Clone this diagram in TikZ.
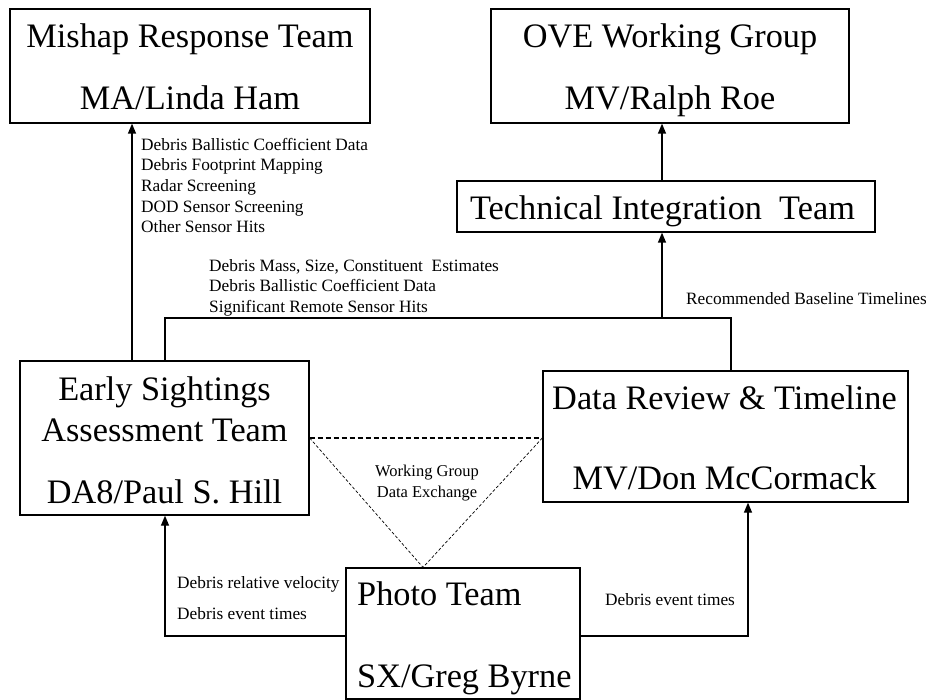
\documentclass[tikz,border=0pt]{standalone}
\usepackage{fontspec}
\setmainfont{Liberation Serif}
\usetikzlibrary{arrows.meta}
\tikzset{
  box/.style={draw, line width=1.3pt, inner sep=0pt},
  big/.style={inner sep=0pt, font=\fontsize{34.3}{38}\selectfont},
  lbl/.style={inner sep=0pt, anchor=base west, font=\fontsize{17.3}{20}\selectfont},
  wire/.style={line width=1.3pt},
  arr/.style={line width=1.3pt, -{Triangle[length=10pt,width=8pt]}},
  dashline/.style={line width=1.1pt, dash pattern=on 5pt off 3pt},
  dotline/.style={line width=0.7pt, dash pattern=on 3pt off 2pt},
}
\begin{document}
\begin{tikzpicture}[x=1pt,y=-1pt]
\useasboundingbox (0,0) rectangle (926,700);
% boxes
\node[box, minimum width=360pt, minimum height=114pt] (mishap) at (190,66) {};
\node[box, minimum width=358pt, minimum height=114pt] (ove) at (670,66) {};
\node[box, minimum width=418pt, minimum height=51pt] (tit) at (666,206.5) {};
\node[box, minimum width=289pt, minimum height=154pt] (esat) at (164.5,438) {};
\node[box, minimum width=365pt, minimum height=131pt] (drt) at (725.5,436.5) {};
\node[box, minimum width=234pt, minimum height=131pt] (photo) at (463,633.5) {};
% box texts
\node[big, anchor=base] (t1) at (190,48) {Mishap Response Team};
\node[big, anchor=base] (t2) at (190,110) {MA/Linda Ham};
\node[big, anchor=base] (t3) at (670,48) {OVE Working Group};
\node[big, anchor=base] (t4) at (670,110) {MV/Ralph Roe};
\node[big, anchor=base] (t5) at (662.5,220) {Technical Integration\ \ Team};
\node[big, anchor=base] (t6) at (164.5,400) {Early Sightings};
\node[big, anchor=base] (t7) at (164.5,441) {Assessment Team};
\node[big, anchor=base] (t8) at (164.5,503) {DA8/Paul S. Hill};
\node[big, anchor=base] (t9) at (724.5,409) {Data Review \& Timeline};
\node[big, anchor=base] (t10) at (724.5,489) {MV/Don McCormack};
\node[big, anchor=base west] (t11) at (357,605) {Photo Team};
\node[big, anchor=base west] (t12) at (357,687) {SX/Greg Byrne};
% labels
\node[lbl] (l1) at (141,151) {Debris Ballistic Coefficient Data};
\node[lbl] (l2) at (141,171) {Debris Footprint Mapping};
\node[lbl] (l3) at (141,192) {Radar Screening};
\node[lbl] (l4) at (141,213) {DOD Sensor Screening};
\node[lbl] (l5) at (141,233) {Other Sensor Hits};
\node[lbl] (l6) at (209,272) {Debris Mass, Size, Constituent\ \ Estimates};
\node[lbl] (l7) at (209,292) {Debris Ballistic Coefficient Data};
\node[lbl] (l8) at (209,313) {Significant Remote Sensor Hits};
\node[lbl] (l9) at (686,305) {Recommended Baseline Timelines};
\node[lbl] (l10) at (177,588) {Debris relative velocity};
\node[lbl] (l11) at (177,619) {Debris event times};
\node[lbl] (l12) at (605,605) {Debris event times};
\node[lbl, anchor=base, font=\fontsize{16.5}{19}\selectfont] (l13) at (427,476) {Working Group};
\node[lbl, anchor=base, font=\fontsize{16.5}{19}\selectfont] (l14) at (427,497) {Data Exchange};
% helper coordinates
\coordinate (xa) at (132,0);
\coordinate (j1) at (165,0);
\coordinate (j2) at (731,0);
\coordinate (xt) at (662,0);
\coordinate (xd) at (748,0);
\coordinate (xp) at (423,0);
\coordinate (bus) at (0,318);
\coordinate (low) at (0,636);
\coordinate (mid) at (0,438);
% connectors
\draw[arr] (esat.north -| xa) -- (mishap.south -| xa);
\draw[arr] (tit.north -| xt) -- (ove.south -| xt);
\draw[wire] (esat.north -| j1) -- (j1 |- bus) -- (j2 |- bus) -- (drt.north -| j2);
\draw[arr] (xt |- bus) -- (tit.south -| xt);
\draw[arr] (photo.west |- low) -| (esat.south -| j1);
\draw[arr] (photo.east |- low) -| (drt.south -| xd);
\draw[dashline] (esat.east |- mid) -- (drt.west |- mid);
\draw[dotline] (esat.east |- mid) -- (photo.north -| xp) -- (drt.west |- mid);
\end{tikzpicture}
\end{document}
